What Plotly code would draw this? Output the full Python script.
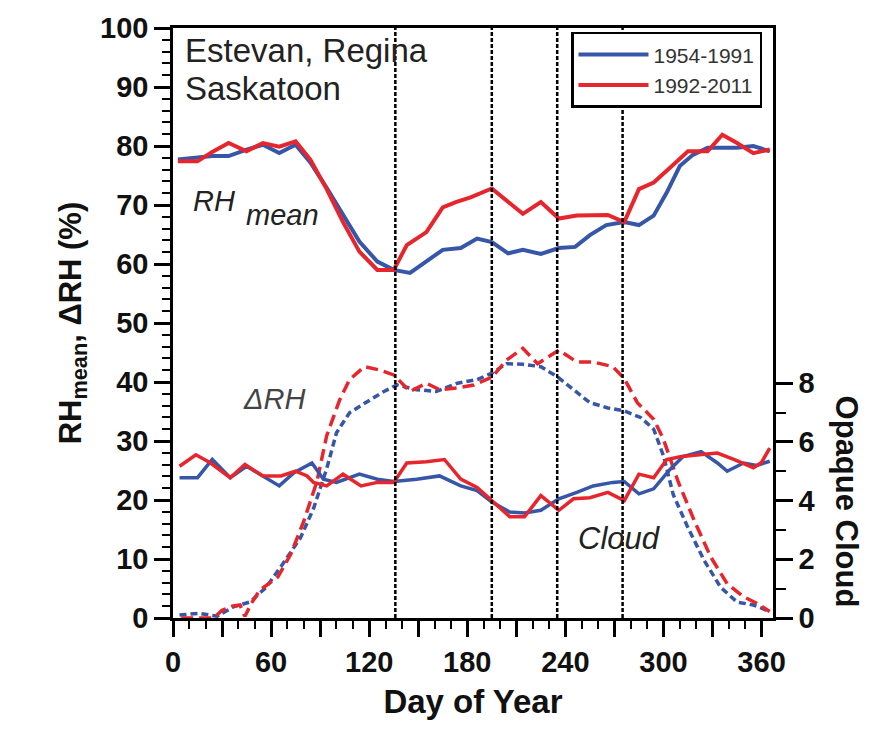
import plotly.graph_objects as go

# ---------------- data ----------------
rh_days_blue = [3, 14, 24, 34, 45, 55, 65, 75, 84, 94, 104, 114, 125, 135, 145, 155, 165, 176, 186, 195,
                205, 214, 225, 236, 246, 255, 265, 276, 285, 294, 302, 310, 318, 327, 336, 345, 355, 365]
rh_blue = [77.7, 78.1, 78.3, 78.3, 79.4, 80.2, 78.8, 80.2, 77.2, 72.9, 68.2, 63.8, 60.4, 59.0, 58.5, 60.4, 62.4,
           62.7, 64.3, 63.7, 61.8, 62.4, 61.7, 62.7, 62.9, 64.9, 66.6, 67.1, 66.6, 68.2, 72.1, 76.6, 78.5,
           79.7, 79.7, 79.7, 80.0, 79.1]

rh_days_red = [3, 15, 24, 34, 45, 55, 65, 75, 84, 94, 104, 114, 125, 135, 143, 155, 165, 173, 182, 195, 214,
               225, 236, 247, 266, 276, 285, 294, 304, 315, 327, 336, 345, 355, 365]
rh_red = [77.4, 77.4, 79.0, 80.5, 79.1, 80.5, 79.9, 80.8, 77.7, 72.7, 67.1, 62.1, 59.0, 59.0, 63.2, 65.4, 69.6,
          70.5, 71.3, 72.8, 68.5, 70.5, 67.7, 68.2, 68.3, 67.1, 72.7, 73.8, 76.3, 79.1, 79.1, 81.9, 80.5,
          78.8, 79.4]

drh_days_blue = [4, 16, 27, 37, 47, 57, 67, 78, 86, 94, 100, 108, 119, 129, 137, 149, 161, 174, 186, 195,
                 204, 214, 225, 235, 245, 255, 266, 276, 286, 294, 300, 306, 315, 325, 335, 345, 355, 365]
drh_blue = [0.5, 0.8, 0.3, 1.9, 2.7, 5.2, 9.1, 13.6, 18.6, 25.3, 31.4, 34.8, 36.7, 38.4, 39.5, 38.7, 38.4,
            39.8, 40.4, 41.5, 43.1, 43.0, 42.6, 40.9, 38.7, 36.5, 35.6, 35.1, 34.0, 32.0, 27.5, 20.9, 15.3,
            9.7, 5.2, 2.7, 2.2, 1.1]

drh_days_red = [5, 15, 25, 30, 36, 41, 44, 48, 53, 64, 72, 80, 88, 94, 102, 108, 117, 127, 135, 145, 155,
                163, 174, 184, 195, 204, 214, 223, 236, 247, 257, 269, 276, 284, 294, 300, 309, 319, 329,
                339, 349, 357, 365]
drh_red = [0.0, 0.0, 0.0, 1.3, 2.0, 2.2, 0.3, 2.5, 4.7, 6.9, 10.8, 16.4, 23.1, 30.9, 37.0, 40.4, 42.6, 42.0,
           41.2, 38.4, 39.8, 38.7, 39.0, 39.5, 40.8, 43.7, 45.7, 43.1, 45.4, 43.4, 43.4, 42.6, 40.6, 36.5,
           33.7, 30.3, 23.1, 16.4, 10.3, 5.8, 3.6, 2.5, 1.1]

cloud_days_blue = [4, 15, 24, 35, 45, 55, 65, 74, 85, 92, 100, 114, 125, 135, 149, 163, 176, 186, 195, 206,
                   215, 225, 236, 247, 257, 269, 276, 285, 294, 304, 312, 323, 333, 339, 349, 357, 365]
cloud_blue = [4.78, 4.78, 5.4, 4.78, 5.17, 4.84, 4.5, 4.95, 5.28, 4.73, 4.62, 4.9, 4.73, 4.65, 4.73, 4.84,
              4.5, 4.34, 3.95, 3.61, 3.58, 3.67, 4.06, 4.28, 4.5, 4.62, 4.65, 4.23, 4.4, 5.06, 5.5, 5.67,
              5.28, 5.0, 5.28, 5.2, 5.34]

cloud_days_red = [4, 14, 23, 35, 44, 55, 66, 75, 82, 86, 94, 104, 115, 125, 135, 143, 155, 166, 176, 186,
                  195, 206, 215, 225, 236, 245, 255, 266, 276, 285, 294, 302, 311, 321, 333, 343, 355, 360, 365]
cloud_red = [5.17, 5.56, 5.28, 4.78, 5.23, 4.84, 4.84, 5.0, 4.84, 4.62, 4.5, 4.9, 4.5, 4.62, 4.62, 5.28,
             5.32, 5.4, 4.73, 4.45, 4.0, 3.45, 3.45, 4.17, 3.67, 4.06, 4.1, 4.28, 4.0, 4.9, 4.78, 5.4, 5.5,
             5.55, 5.62, 5.4, 5.12, 5.3, 5.79]

period_bounds = [136, 195, 235, 275]

y_tickvals = [0, 10, 20, 30, 40, 50, 60, 70, 80, 90, 100]
y2_tickvals = [0, 2, 4, 6, 8]
y2_minorvals = [1, 3, 5, 7]

series_names = ["1954-1991", "1992-2011"]

# ---------------- style ----------------
BLUE = "#3656a8"
RED = "#e6262c"
FONT = "Liberation Sans, Arial, sans-serif"

# plot area in pixels
L, R, T, B = 173, 773, 20, 618
W, H = 875, 734


def px(x):
    return (x - L) / (R - L)


def py(y):
    return (B - y) / (B - T)


fig = go.Figure()

fig.add_trace(go.Scatter(x=rh_days_blue, y=rh_blue, mode="lines", name=series_names[0],
                         line=dict(color=BLUE, width=4)))
fig.add_trace(go.Scatter(x=rh_days_red, y=rh_red, mode="lines", name=series_names[1],
                         line=dict(color=RED, width=4)))
fig.add_trace(go.Scatter(x=drh_days_blue, y=drh_blue, mode="lines", showlegend=False,
                         line=dict(color=BLUE, width=3.5, dash="7px,4px")))
fig.add_trace(go.Scatter(x=drh_days_red, y=drh_red, mode="lines", showlegend=False,
                         line=dict(color=RED, width=3.5, dash="12px,6px")))
fig.add_trace(go.Scatter(x=cloud_days_blue, y=cloud_blue, mode="lines", showlegend=False, yaxis="y2",
                         line=dict(color=BLUE, width=3.5)))
fig.add_trace(go.Scatter(x=cloud_days_red, y=cloud_red, mode="lines", showlegend=False, yaxis="y2",
                         line=dict(color=RED, width=3.5)))

for d in period_bounds:
    fig.add_vline(x=d, line=dict(color="black", width=2.5, dash="4px,2px"))

tickfont = dict(family=FONT, size=29, color="#111", weight="bold")

fig.update_layout(
    width=W, height=H,
    margin=dict(l=L, r=W - R, t=T, b=H - B, pad=0),
    paper_bgcolor="white", plot_bgcolor="white",
    font=dict(family=FONT, color="#111"),
    xaxis=dict(range=[0, 367], tick0=0, dtick=30, ticklabelstep=2, ticks="outside", ticklen=16,
               tickwidth=2.5, tickcolor="black", showline=True, linecolor="black", linewidth=2.5,
               mirror=True, showgrid=False, zeroline=False, tickfont=tickfont,
               minor=dict(dtick=10, ticks="outside", ticklen=8, tickwidth=2, tickcolor="black"),
               title=dict(text="Day of Year", font=dict(family=FONT, size=33, color="#111", weight="bold"),
                          standoff=14)),
    yaxis=dict(range=[0, 100], tickvals=y_tickvals, ticks="outside", ticklen=16, tickwidth=2.5,
               tickcolor="black", showline=True, linecolor="black", linewidth=2.5, showgrid=False,
               zeroline=False, tickfont=tickfont,
               minor=dict(dtick=2, ticks="outside", ticklen=8, tickwidth=2, tickcolor="black"),
               title=dict(text="RH<sub>mean</sub>, ΔRH (%)",
                          font=dict(family=FONT, size=31, color="#111", weight="bold"), standoff=10)),
    yaxis2=dict(range=[0, 20.1], overlaying="y", side="right", tickvals=y2_tickvals, ticks="outside",
                ticklen=17, tickwidth=2.5, tickcolor="black", showline=True, linecolor="black",
                linewidth=2.5, showgrid=False, zeroline=False, tickfont=tickfont,
                minor=dict(tickvals=y2_minorvals, ticks="outside", ticklen=10, tickwidth=2,
                           tickcolor="black")),
    legend=dict(x=px(571), y=py(24), xanchor="left", yanchor="top", bgcolor="white",
                bordercolor="black", borderwidth=2.5, font=dict(family=FONT, size=21, color="#333"),
                itemwidth=70, tracegroupgap=0),
    showlegend=True,
)

annots = [
    dict(text="Estevan, Regina", x=px(183), y=py(43), size=33, italic=False, color="#222"),
    dict(text="Saskatoon", x=px(183), y=py(81), size=33, italic=False, color="#222"),
    dict(text="RH", x=px(191), y=py(195), size=29, italic=True, color="#222"),
    dict(text="mean", x=px(244), y=py(210), size=29, italic=True, color="#222"),
    dict(text="ΔRH", x=px(241), y=py(396), size=29, italic=True, color="#444"),
    dict(text="Cloud", x=px(576), y=py(537), size=31, italic=True, color="#222"),
]
for a in annots:
    fig.add_annotation(text=a["text"], x=a["x"], y=a["y"], xref="paper", yref="paper",
                       xanchor="left", yanchor="middle", showarrow=False,
                       font=dict(family=FONT, size=a["size"], color=a["color"],
                                 style="italic" if a["italic"] else "normal"))

fig.add_annotation(text="Opaque Cloud", x=px(846), y=py(500), xref="paper", yref="paper",
                   xanchor="center", yanchor="middle", showarrow=False, textangle=90,
                   font=dict(family=FONT, size=31, color="#111", weight="bold"))

fig.write_html("out.html")
